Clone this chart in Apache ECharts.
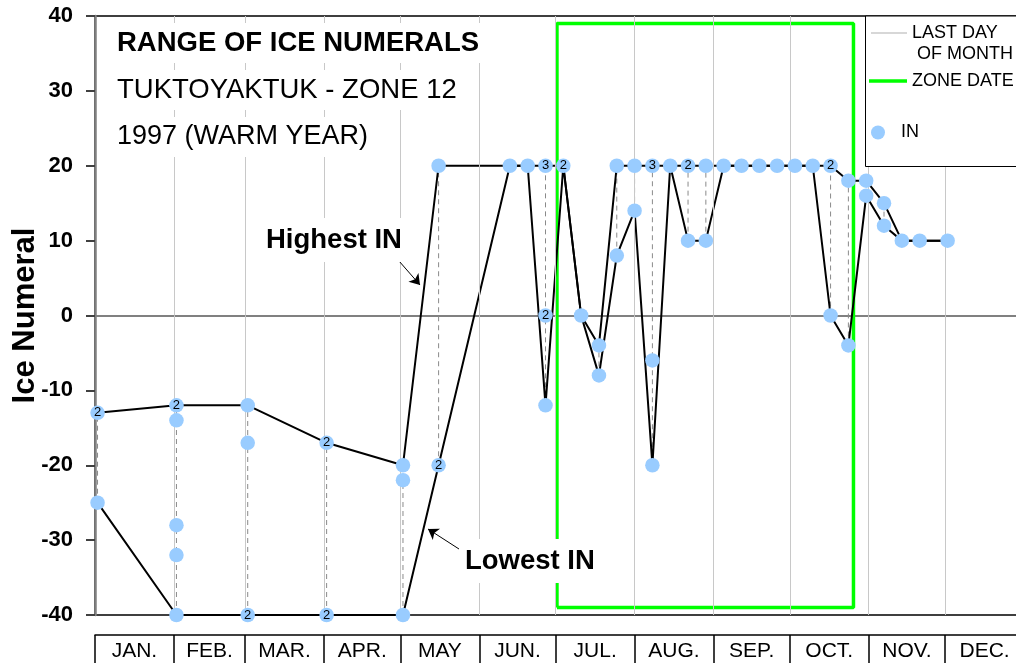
<!DOCTYPE html>
<html lang="en">
<head>
<meta charset="UTF-8">
<title>Range of Ice Numerals</title>
<script src="https://cdn.jsdelivr.net/npm/echarts@6/dist/echarts.min.js"></script>
<style>
    html, body { margin: 0; padding: 0; background: #fff; }
    #main { width: 1016px; height: 663px; }
</style>
</head>
<body>
<div id="main"></div>
<script>
// observations: day of year, ice numeral, number of times that numeral was seen
var obsDay = [1, 1, 32, 32, 32, 32, 32, 60, 60, 60, 91, 91, 121, 121, 121, 135, 135,
    163, 170, 177, 177, 177, 184, 191, 198, 198, 205, 205, 212, 212, 219, 219, 219, 226,
    233, 233, 240, 240, 247, 254, 261, 268, 275, 282, 289, 289, 296, 296, 303, 303,
    310, 310, 317, 324, 335];
var obsValue = [-13, -25, -12, -14, -28, -32, -40, -12, -17, -40, -17, -40, -20, -22, -40, 20, -20,
    20, 20, 20, 0, -12, 20, 0, -4, -8, 20, 8, 20, 14, 20, -6, -20, 20,
    20, 10, 20, 10, 20, 20, 20, 20, 20, 20, 20, 0, 18, -4, 18, 16,
    15, 12, 10, 10, 10];
var obsCount = [2, 1, 2, 1, 1, 1, 1, 1, 1, 2, 2, 2, 1, 1, 1, 1, 2,
    1, 1, 3, 2, 1, 2, 1, 1, 1, 1, 1, 1, 1, 3, 1, 1, 1,
    2, 1, 1, 1, 1, 1, 1, 1, 1, 1, 2, 1, 1, 1, 1, 1,
    1, 1, 1, 1, 1];

var monthEnd = [31, 59, 90, 120, 151, 181, 212, 243, 273, 304, 334];
var monthEdge = [0, 31, 59, 90, 120, 151, 181, 212, 243, 273, 304, 334, 365];
var monthMid = [15.5, 45, 74.5, 105, 135.5, 166, 196.5, 227.5, 258, 288.5, 319, 349.5];
var monthName = ['JAN.', 'FEB.', 'MAR.', 'APR.', 'MAY', 'JUN.', 'JUL.', 'AUG.', 'SEP.', 'OCT.', 'NOV.', 'DEC.'];

// zone date window (days) and the height of its box
var zoneDays = [181.5, 298];
var zoneIN = [-39, 39];

var FONT = 'Liberation Sans, Arial, sans-serif';

// highest / lowest numeral of each observation day
var days = [], hi = [], lo = [];
obsDay.forEach(function (d, i) {
    var k = days.indexOf(d);
    if (k < 0) {
        days.push(d); hi.push(obsValue[i]); lo.push(obsValue[i]);
    } else {
        hi[k] = Math.max(hi[k], obsValue[i]);
        lo[k] = Math.min(lo[k], obsValue[i]);
    }
});
var hiLine = days.map(function (d, i) { return [d, hi[i]]; });
var loLine = days.map(function (d, i) { return [d, lo[i]]; });
var ranges = [];
days.forEach(function (d, i) { if (hi[i] > lo[i]) ranges.push([d, lo[i], hi[i]]); });
var points = obsDay.map(function (d, i) { return [d, obsValue[i], obsCount[i]]; });
var zoneBox = [
    [zoneDays[0], zoneIN[0]], [zoneDays[0], zoneIN[1]],
    [zoneDays[1], zoneIN[1]], [zoneDays[1], zoneIN[0]], [zoneDays[0], zoneIN[0]]
];

var chart = echarts.init(document.getElementById('main'));
var legendText = { fontSize: 18, lineHeight: 21, color: '#000', fontFamily: FONT };
var option = {
    animation: false,
    textStyle: { fontFamily: FONT },
    title: [
        { text: 'RANGE OF ICE NUMERALS', left: 111, top: 23, padding: [6, 6],
          backgroundColor: '#fff',
          textStyle: { fontSize: 27.5, fontWeight: 'bold', color: '#000', lineHeight: 28, fontFamily: FONT } },
        { text: 'TUKTOYAKTUK - ZONE 12', left: 111, top: 70, padding: [6, 6],
          backgroundColor: '#fff',
          textStyle: { fontSize: 27.5, fontWeight: 'normal', color: '#000', lineHeight: 28, fontFamily: FONT } },
        { text: '1997 (WARM YEAR)', left: 111, top: 117, padding: [6, 6],
          backgroundColor: '#fff',
          textStyle: { fontSize: 27, fontWeight: 'normal', color: '#000', lineHeight: 28, fontFamily: FONT } }
    ],
    legend: [
        { data: [{ name: 'LAST DAY', icon: 'path://M0,0L36,0L36,1L0,1Z' },
                 { name: ' OF MONTH', icon: 'none' }],
          orient: 'vertical', left: 871, top: 22.5, padding: 0, itemGap: 0,
          itemWidth: 36, itemHeight: 14, symbolKeepAspect: true, selectedMode: false, z: 7,
          textStyle: legendText },
        { data: [{ name: 'ZONE DATE', icon: 'path://M0,0L38,0L38,3.5L0,3.5Z' }],
          orient: 'vertical', left: 869, top: 70.5, padding: 0,
          itemWidth: 38, itemHeight: 14, symbolKeepAspect: true, selectedMode: false, z: 7,
          textStyle: legendText },
        { data: ['IN'],
          orient: 'vertical', left: 871, top: 122, padding: 0,
          itemWidth: 36, itemHeight: 14, selectedMode: false, z: 7,
          textStyle: legendText }
    ],
    graphic: [
        { type: 'rect', z: 6, shape: { x: 865.5, y: 16, width: 200, height: 150.5 },
          style: { fill: '#fff', stroke: '#000', lineWidth: 1 } },
        { type: 'text', z: 8, x: 262, y: 240,
          style: { text: 'Highest IN', font: 'bold 27.5px ' + FONT, fill: '#000',
                   verticalAlign: 'middle', backgroundColor: '#fff', padding: [8, 4] } },
        { type: 'text', z: 8, x: 461, y: 561,
          style: { text: 'Lowest IN', font: 'bold 27.5px ' + FONT, fill: '#000',
                   verticalAlign: 'middle', backgroundColor: '#fff', padding: [8, 4] } }
    ],
    grid: { left: 95, top: 16, width: 929, height: 599, show: true,
            borderColor: '#000', borderWidth: 1.5,
            containLabel: false, outerBoundsMode: 'none' },
    xAxis: [
        { type: 'value', min: 0, max: 365,
          axisLine: { show: true, onZero: true, lineStyle: { color: '#808080', width: 2 } },
          axisTick: { show: false }, axisLabel: { show: false }, splitLine: { show: false } },
        { type: 'value', min: 0, max: 365, position: 'bottom', offset: 20,
          axisLine: { show: true, onZero: false, lineStyle: { color: '#000', width: 1.5 } },
          axisTick: { show: true, customValues: monthEdge, length: 30,
                      lineStyle: { color: '#000', width: 1.5 } },
          axisLabel: { show: true, customValues: monthMid, margin: 6, fontSize: 21, color: '#000',
                       formatter: function (v) { return monthName[monthMid.indexOf(v)]; } },
          splitLine: { show: false } }
    ],
    yAxis: {
        type: 'value', min: -40, max: 40, interval: 10,
        name: 'Ice Numeral', nameLocation: 'middle', nameGap: 54, nameMoveOverlap: false,
        nameTextStyle: { fontSize: 31, fontWeight: 'bold', color: '#000', fontFamily: FONT },
        axisLine: { show: true, lineStyle: { color: '#808080', width: 2.5 } },
        axisTick: { show: true, length: 9, lineStyle: { color: '#404040', width: 2 } },
        axisLabel: { margin: 22, fontSize: 22, fontWeight: 'bold', color: '#000' },
        splitLine: { show: false }
    },
    series: [
        {
            name: 'LAST DAY', type: 'line', data: [], symbol: 'none', z: 1,
            itemStyle: { color: '#b0b0b0' },
            lineStyle: { color: '#b0b0b0', width: 1 },
            markLine: {
                silent: true, symbol: 'none', label: { show: false },
                lineStyle: { color: '#c8c8c8', width: 1, type: 'solid' },
                data: monthEnd.map(function (d) { return { xAxis: d }; })
            }
        },
        { name: ' OF MONTH', type: 'line', data: [], symbol: 'none', lineStyle: { width: 0 } },
        {
            name: 'ZONE DATE', type: 'line', data: zoneBox, symbol: 'none', z: 2,
            itemStyle: { color: '#00ff00' },
            lineStyle: { color: '#00ff00', width: 3.5 }
        },
        {
            name: 'range', type: 'custom', data: ranges, z: 2,
            encode: { x: 0, y: [1, 2] },
            renderItem: function (params, api) {
                var a = api.coord([api.value(0), api.value(1)]);
                var b = api.coord([api.value(0), api.value(2)]);
                return { type: 'line', shape: { x1: a[0], y1: a[1], x2: b[0], y2: b[1] },
                         style: { stroke: '#8a8a8a', lineWidth: 1, lineDash: [5, 4] } };
            }
        },
        {
            name: 'Highest IN', type: 'line', data: hiLine, symbol: 'none', z: 3,
            lineStyle: { color: '#000', width: 2 },
            markLine: {
                silent: true, symbol: ['none', 'arrow'], symbolSize: 10, label: { show: false },
                lineStyle: { color: '#000', width: 1, type: 'solid' },
                data: [[{ x: 399, y: 261 }, { x: 420, y: 285 }]]
            }
        },
        {
            name: 'Lowest IN', type: 'line', data: loLine, symbol: 'none', z: 3,
            lineStyle: { color: '#000', width: 2 },
            markLine: {
                silent: true, symbol: ['none', 'arrow'], symbolSize: 10, label: { show: false },
                lineStyle: { color: '#000', width: 1, type: 'solid' },
                data: [[{ x: 459, y: 549 }, { x: 428, y: 529 }]]
            }
        },
        {
            name: 'IN', type: 'scatter', data: points, symbolSize: 14.5, z: 5,
            itemStyle: { color: '#99ccff', opacity: 1 },
            label: {
                show: true, position: 'inside', fontSize: 13, color: '#000',
                formatter: function (p) { return p.value[2] > 1 ? String(p.value[2]) : ''; }
            }
        }
    ]
};
chart.setOption(option);
</script>
</body>
</html>
